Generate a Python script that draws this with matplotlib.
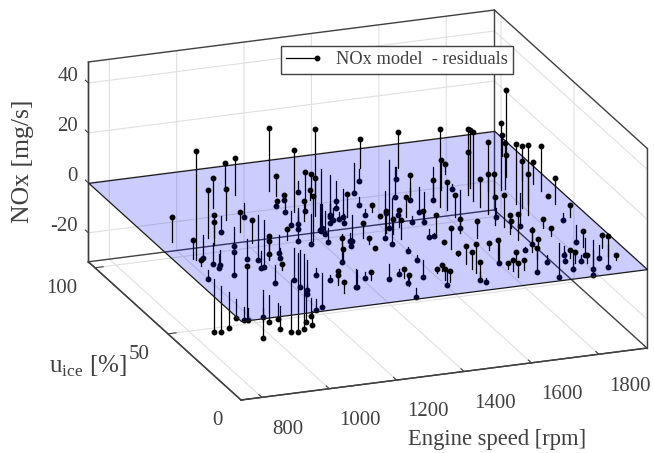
"""
NOx model residuals over engine speed and engine load, stems from the z=0 plane.
"""

import matplotlib
matplotlib.use("Agg")
import matplotlib.pyplot as plt
from matplotlib.legend_handler import HandlerLine2D
from matplotlib.lines import Line2D
from mpl_toolkits.mplot3d import proj3d
from mpl_toolkits.mplot3d.art3d import Poly3DCollection

# ---------------------------------------------------------------------------
# Data
# ---------------------------------------------------------------------------
speed_low = [
    785, 796, 790, 792, 886, 891, 989, 908, 887, 889,
    888, 873, 986, 1080, 987, 1085, 990, 1086, 989, 944,
    911, 991, 989, 1087, 991, 1088, 1006, 989, 1186, 986,
    1188, 1160, 1176, 1194, 1211, 1086, 1048, 1197, 1185, 1090,
    1189, 991, 1288, 1211, 1203, 1184, 1288, 1190, 1282, 1284,
    1265, 1154, 1232, 1284, 1227, 1384, 1389, 1306, 1388, 1332,
    1383, 1311, 1313, 1484, 1333, 1265, 1203, 1174, 1251, 986,
    1085, 1094, 1087, 1013, 1085, 1088, 1103, 1095, 1105, 1088,
    1188, 799, 760, 789, 787, 790, 788, 787, 794, 887,
    834, 887, 887, 884, 986, 1081, 1094, 987, 986, 952,
    994, 1279, 1287, 1273, 1229, 1305, 1300, 1307,
]
uice_low = [
    58, 44, 45, 40, 60, 58, 77, 58, 53, 54,
    49, 46, 71, 90, 68, 84, 59, 78, 63, 52,
    45, 51, 54, 69, 45, 65, 43, 39, 84, 38,
    80, 73, 77, 76, 80, 54, 45, 76, 69, 50,
    68, 30, 88, 70, 68, 64, 83, 61, 82, 78,
    74, 47, 63, 75, 65, 94, 89, 70, 85, 72,
    79, 62, 60, 95, 61, 46, 38, 31, 49, 34,
    44, 42, 35, 18, 29, 25, 23, 16, 18, 10,
    25, 37, 1, 30, 25, 20, 15, 9, 8, 19,
    7, 15, 9, 7, 23, 40, 39, 13, 9, 1,
    8, 71, 71, 66, 54, 70, 67, 64,
]
resid_low = [
    10, 43.7, 7.6, 2.3, -8.9, 19.2, 12.3, 8.9, 8.9, -8.4,
    -6, -5.6, -6.4, 9.7, 12.7, 14.9, 8, -5.6, -7.6, -3.3,
    -8.4, 8.9, -8, -18, -7, -19, 6.7, 6.9, 25, 2.3,
    8, 2.3, -2.3, 2.4, -2, -7.3, -4, -4.4, -5.9, 4.3,
    24.7, 2.4, -4.3, -13, -5, -4.7, 6.4, 8, -8.7, 8,
    4, 18, 35, 8.3, -12, -24.7, -15.7, -5.3, -8, -3.3,
    -11.3, -3.3, 9.3, -12, -10.7, -3.3, 5.3, 5, -11, -7,
    -12.8, -14.7, -12.3, -3.3, -3, -13.5, -2, 5.3, 2.7, 4.4,
    -7.5, -3.7, 21, -21, -18.4, -14.4, -7.6, -5, -4.7, -19.6,
    -3.7, -11, -6.7, -9.3, -21, -31.5, -30, -11.7, -7, -5.7,
    -4.4, -10.4, -10, -9.3, -5.3, -7.6, -4.7, -2.7,
]

speed_high = [
    1487, 1483, 1586, 1399, 1392, 1382, 1296, 1292, 1292, 1397,
    1367, 1585, 1486, 1485, 1581, 1584, 1385, 1419, 1391, 1467,
    1559, 1538, 1586, 1490, 1586, 1485, 1580, 1682, 1584, 1635,
    1691, 1591, 1682, 1593, 1684, 1562, 1688, 1712, 1718, 1688,
    1687, 1689, 1753, 1762, 1791, 1890, 1804, 1910, 1842, 1787,
    1794, 1820, 1874, 1788, 1891, 1894, 1892, 1890, 1891, 1885,
    1789, 1789, 1674, 1724, 1692, 1687, 1707, 1689, 1829, 1692,
    1765, 1714, 1687, 1722, 1723, 1789, 1776, 1779, 1793, 1885,
    1841, 1772, 1807, 1813, 1805, 1871, 1887, 1855, 1887, 1909,
    1886, 1880, 1890, 1582, 1589, 1587, 1622, 1689, 1625, 1646,
    1579, 1588, 1479, 1500, 1500, 1488, 1489, 1487, 1491, 1422,
    1393, 1386, 1403, 1385, 1387, 1276, 1307, 1289, 1286, 1298,
    1286, 1192, 1200, 1187, 1385, 1386, 1490, 1492, 1487, 1488,
    1492, 1591, 1438, 1465, 1275,
]
uice_high = [
    91, 91, 88, 72, 61, 64, 45, 40, 36, 57,
    46, 94, 74, 69, 89, 89, 45, 49, 41, 55,
    74, 69, 74, 49, 70, 55, 63, 86, 59, 70,
    80, 56, 73, 51, 68, 40, 64, 69, 69, 60,
    55, 50, 65, 63, 65, 87, 65, 89, 73, 54,
    51, 53, 70, 46, 66, 61, 56, 51, 41, 44,
    36, 30, 42, 53, 40, 35, 39, 30, 61, 21,
    38, 22, 16, 24, 18, 25, 14, 18, 22, 35,
    20, 10, 19, 15, 9, 26, 24, 17, 20, 19,
    18, 12, 9, 12, 10, 6, 10, 25, 16, 33,
    18, 26, 7, 12, 8, 12, 15, 19, 25, 17,
    8, 10, 16, 15, 25, 9, 17, 7, 15, 21,
    25, 16, 22, 24, 29, 35, 45, 42, 39, 34,
    30, 35, 62, 60, 49,
]
resid_high = [
    11.7, -5, 14.4, -3, 3, -2.7, 5.7, 2.4, 0.5, 0.7,
    8.7, -27, -18.7, -18.4, -12, -4.7, 5.7, 6.7, 7.3, 8,
    -5, 8.3, -10, 5, -12, -2.3, 8.4, -13.3, 31, 12,
    4, 11.3, -2, 8.7, -15, 5.3, 26.7, 14.4, 23, 27.7,
    11.3, 28.7, 7, 7.7, 26.7, 8.7, 18.3, 25, 8.7, 24.3,
    25, 23.7, 7.6, 16.4, 8.7, 18, 0.7, 10.3, 5, -2.7,
    3.7, 3.3, 11.3, -3.3, 12.7, 7.6, 2.7, 10.7, -13, 8.7,
    -7, 4.3, 4.4, -10, -3, -13.6, 3, -3.3, -3.3, -6.7,
    6.4, 4.4, -7.6, -2.3, 3.3, -7, -14, -7.3, -5.3, -8.7,
    5, 8, 2, 2.3, 4.5, 5.6, 4, -1.3, 3.7, -9.7,
    8.4, 2.9, 7, -3, -1.7, 11.7, 6.7, 7, 1, -6.3,
    4.4, 4.3, 2.3, 1.6, -6.7, 4.4, -3.7, -3.7, 3.3, -2,
    -6, 3.3, -2.3, -7, -2, -1.6, -3.3, -1, 9, 0.7,
    8.3, 7, -1.7, -2, -3.3,
]

speed_ticks = [800, 1000, 1200, 1400, 1600, 1800]
uice_ticks = [0, 50, 100]
nox_ticks = [-20, 0, 20, 40]

XLIM = (738, 1943)
YLIM = (0, 104.5)
ZLIM = (-31.6, 48.4)

TEXT_COLOR = "0.25"
LINE_COLOR = "0.25"
W, H = 654, 453


class EndMarkerHandler(HandlerLine2D):
    """Legend entry with the marker sitting at the right end of the line."""

    def create_artists(self, legend, orig_handle, xdescent, ydescent, width,
                       height, fontsize, trans):
        artists = super().create_artists(legend, orig_handle, xdescent, ydescent,
                                         width, height, fontsize, trans)
        artists[0].set_markevery([2])
        return artists


def project(ax, x, y, z):
    px, py, _ = proj3d.proj_transform(x, y, z, ax.get_proj())
    return ax.transData.transform((px, py))


def fit_axes(fig, ax):
    """Scale and shift the 3D box so the front floor edge lands where it should."""
    ax.set_box_aspect((1, 1, 0.49), zoom=1.0)
    fig.canvas.draw()
    p0 = project(ax, XLIM[0], YLIM[0], ZLIM[0])
    p1 = project(ax, XLIM[1], YLIM[0], ZLIM[0])
    ax.set_box_aspect((1, 1, 0.49), zoom=406.0 / (p1[0] - p0[0]))
    fig.canvas.draw()
    p0 = project(ax, XLIM[0], YLIM[0], ZLIM[0])
    pos = ax.get_position(original=True)
    ax.set_position([pos.x0 + (241 - p0[0]) / W,
                     pos.y0 + ((H - 400) - p0[1]) / H,
                     pos.width, pos.height])


def draw_box(ax):
    """Outline of the back walls and the floor, like a MATLAB 'box on'."""
    x0, x1 = XLIM
    y0, y1 = YLIM
    z0, z1 = ZLIM
    edges = [
        ((x0, y0, z0), (x1, y0, z0)), ((x0, y0, z0), (x0, y1, z0)),
        ((x0, y1, z0), (x1, y1, z0)), ((x1, y0, z0), (x1, y1, z0)),
        ((x0, y1, z0), (x0, y1, z1)), ((x1, y1, z0), (x1, y1, z1)),
        ((x1, y0, z0), (x1, y0, z1)), ((x0, y1, z1), (x1, y1, z1)),
        ((x1, y0, z1), (x1, y1, z1)),
    ]
    for a, b in edges:
        ax.plot(*zip(a, b), color=LINE_COLOR, linewidth=1.0, zorder=1)


def main():
    plt.rcParams["font.family"] = ["Liberation Serif", "DejaVu Serif"]
    plt.rcParams["mathtext.fontset"] = "custom"
    plt.rcParams["mathtext.rm"] = "Liberation Serif"
    plt.rcParams["font.size"] = 15
    plt.rcParams["axes.unicode_minus"] = False
    plt.rcParams["grid.color"] = "0.88"
    plt.rcParams["grid.linewidth"] = 0.8

    fig = plt.figure(figsize=(W / 100, H / 100), dpi=100)
    ax = fig.add_axes([-0.1, -0.3, 1.2, 1.6], projection="3d", proj_type="ortho",
                      computed_zorder=False)
    ax.view_init(elev=19.9, azim=-110.6)
    ax.patch.set_alpha(0)

    ax.set_xlim(*XLIM)
    ax.set_ylim(*YLIM)
    ax.set_zlim(*ZLIM)
    ax.set_xticks(speed_ticks)
    ax.set_yticks(uice_ticks)
    ax.set_zticks(nox_ticks)
    # z ticks point along the y direction in the reference
    ax.zaxis._get_tickdir = lambda position: 1

    for axis in (ax.xaxis, ax.yaxis, ax.zaxis):
        axis.pane.set_facecolor("white")
        axis.pane.set_edgecolor("none")
        axis.line.set_color(LINE_COLOR)
        axis.line.set_linewidth(1.0)
        axis._axinfo["tick"]["inward_factor"] = 0.0
        axis._axinfo["tick"]["outward_factor"] = 0.25
        axis._axinfo["tick"]["linewidth"] = {True: 0.8, False: 0.5}

    ax.tick_params(axis="x", colors=TEXT_COLOR, pad=10)
    ax.tick_params(axis="y", colors=TEXT_COLOR, pad=4)
    ax.tick_params(axis="z", colors=TEXT_COLOR, pad=-3)
    for label in ax.get_xticklabels():
        label.set_ha("left")
    for label in ax.get_yticklabels():
        label.set_ha("right")
    for label in ax.get_zticklabels():
        label.set_ha("right")
        label.set_va("baseline")

    draw_box(ax)

    speed = speed_low + speed_high
    uice = uice_low + uice_high
    resid = resid_low + resid_high

    # stems below the plane are seen through it, the ones above sit on top
    for x, y, z in zip(speed, uice, resid):
        order = 4 if z > 0 else 2
        ax.plot([x, x], [y, y], [0, z], color="black", linewidth=0.9, zorder=order)
        ax.plot([x], [y], [z], "o", color="black", markersize=3.2, zorder=order)

    plane = Poly3DCollection(
        [[(XLIM[0], YLIM[0], 0), (XLIM[1], YLIM[0], 0),
          (XLIM[1], YLIM[1], 0), (XLIM[0], YLIM[1], 0)]],
        facecolor=(0, 0, 1, 0.2), edgecolor=(0.1, 0.1, 0.1, 1), linewidth=0.9, zorder=3,
    )
    ax.add_collection3d(plane)

    fit_axes(fig, ax)

    fig.text(497 / W, 1 - 440 / H, "Engine speed [rpm]", color=TEXT_COLOR,
             ha="center", va="center", fontsize=16.3)
    fig.text(88 / W, 1 - 366 / H, r"u$_{\mathrm{ice}}$ [%]", color=TEXT_COLOR,
             ha="center", va="center", fontsize=18)
    fig.text(23 / W, 1 - 161 / H, "NOx [mg/s]", color=TEXT_COLOR, rotation=90,
             ha="center", va="center", fontsize=18.5)

    handle = Line2D([], [], color="black", linewidth=0.9, marker="o", markersize=3.2)
    fig.legend(
        [handle], ["NOx model  - residuals"],
        handler_map={handle: EndMarkerHandler(numpoints=1)},
        loc="center", bbox_to_anchor=(397 / W, 1 - 60 / H),
        fontsize=13.2, frameon=True, fancybox=False, framealpha=1,
        edgecolor=LINE_COLOR, handlelength=1.7, handletextpad=1.0, borderpad=0.3,
        labelcolor=TEXT_COLOR,
    )

    fig.savefig("out.png", dpi=100, facecolor="white")


if __name__ == "__main__":
    main()
